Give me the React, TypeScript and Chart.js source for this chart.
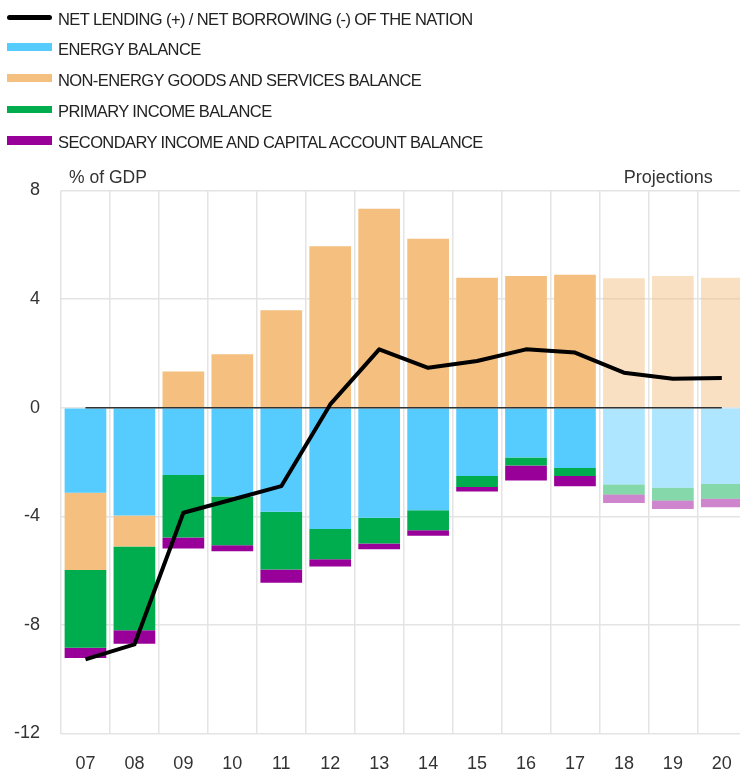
import React, { useEffect, useRef } from "react";
import { Chart, registerables } from "chart.js";

Chart.register(...registerables);

const categories = ["07", "08", "09", "10", "11", "12", "13", "14", "15", "16", "17", "18", "19", "20"];
const projected = [false, false, false, false, false, false, false, false, false, false, false, true, true, true];

const netLending = [-9.27, -8.72, -3.87, -3.38, -2.89, 0.12, 2.15, 1.47, 1.72, 2.15, 2.03, 1.29, 1.07, 1.09];
const energyBalance = [-3.13, -3.97, -2.48, -3.27, -3.83, -4.47, -4.05, -3.78, -2.52, -1.83, -2.22, -2.83, -2.95, -2.81];
const nonEnergyBalance = [-2.85, -1.14, 1.33, 1.97, 3.59, 5.95, 7.33, 6.22, 4.79, 4.85, 4.9, 4.77, 4.85, 4.79];
const primaryIncome = [-2.86, -3.09, -2.3, -1.8, -2.13, -1.11, -0.95, -0.73, -0.4, -0.3, -0.3, -0.37, -0.47, -0.54];
const secondaryIncome = [-0.38, -0.49, -0.41, -0.22, -0.49, -0.27, -0.21, -0.21, -0.17, -0.55, -0.37, -0.31, -0.31, -0.32];
const zeroLine = [0, 0, 0, 0, 0, 0, 0, 0, 0, 0, 0, 0, 0, 0];

const yTicks = [8, 4, 0, -4, -8, -12];

const COLORS = {
  net: "#000000",
  energy: [85, 203, 254],
  nonEnergy: [244, 191, 127],
  primary: [0, 173, 78],
  secondary: [153, 0, 153],
};

const legendItems = [
  { label: "NET LENDING (+) / NET BORROWING (-) OF THE NATION", color: "#000", h: 5, round: true, y: 18.5 },
  { label: "ENERGY BALANCE", color: "rgb(85,203,254)", h: 8, y: 48.5 },
  { label: "NON-ENERGY GOODS AND SERVICES BALANCE", color: "rgb(244,191,127)", h: 8, y: 79.5 },
  { label: "PRIMARY INCOME BALANCE", color: "rgb(0,173,78)", h: 7, y: 111 },
  { label: "SECONDARY INCOME AND CAPITAL ACCOUNT BALANCE", color: "rgb(153,0,153)", h: 9, y: 141.5 },
];

function pointColors(rgb: number[]) {
  return projected.map((p) => `rgba(${rgb[0]},${rgb[1]},${rgb[2]},${p ? 0.48 : 1})`);
}

const FONT = "'Liberation Sans', Arial, Helvetica, sans-serif";

export default function App() {
  const canvasRef = useRef<HTMLCanvasElement | null>(null);

  useEffect(() => {
    if (!canvasRef.current) return;
    const barBase = {
      type: "bar" as const,
      order: 2,
      barPercentage: 0.852,
      categoryPercentage: 1,
      borderWidth: 0,
    };
    const chart = new Chart(canvasRef.current, {
      type: "bar",
      data: {
        labels: categories,
        datasets: [
          {
            type: "line",
            label: "NET LENDING (+) / NET BORROWING (-) OF THE NATION",
            data: netLending,
            borderColor: COLORS.net,
            borderWidth: 4,
            pointRadius: 0,
            tension: 0,
            order: 0,
            stack: "net",
            borderJoinStyle: "round",
          } as any,
          {
            type: "line",
            label: "zero",
            data: zeroLine,
            borderColor: "#333333",
            borderWidth: 1.5,
            pointRadius: 0,
            order: 1,
            stack: "zero",
          } as any,
          { ...barBase, label: "ENERGY BALANCE", data: energyBalance, backgroundColor: pointColors(COLORS.energy), stack: "bars" },
          { ...barBase, label: "NON-ENERGY GOODS AND SERVICES BALANCE", data: nonEnergyBalance, backgroundColor: pointColors(COLORS.nonEnergy), stack: "bars" },
          { ...barBase, label: "PRIMARY INCOME BALANCE", data: primaryIncome, backgroundColor: pointColors(COLORS.primary), stack: "bars" },
          { ...barBase, label: "SECONDARY INCOME AND CAPITAL ACCOUNT BALANCE", data: secondaryIncome, backgroundColor: pointColors(COLORS.secondary), stack: "bars" },
        ],
      },
      options: {
        animation: false,
        responsive: true,
        maintainAspectRatio: false,
        layout: { padding: { top: 190.5, right: 13.7, left: 0, bottom: 0 } },
        plugins: { legend: { display: false }, tooltip: { enabled: false } },
        scales: {
          x: {
            stacked: true,
            offset: true,
            grid: { offset: true, color: "#e4e4e4", lineWidth: 1.5, drawTicks: false },
            border: { display: false },
            ticks: { font: { family: FONT, size: 18 }, color: "#333", padding: 20, maxRotation: 0, autoSkip: false },
            afterFit: (s: any) => {
              s.height = 36.5;
            },
          },
          y: {
            stacked: true,
            min: -12,
            max: 8,
            afterBuildTicks: (s: any) => {
              s.ticks = yTicks.map((v) => ({ value: v }));
            },
            grid: { color: "#e4e4e4", lineWidth: 1.5, drawTicks: false },
            border: { display: false },
            ticks: { font: { family: FONT, size: 18 }, color: "#333", padding: 21 },
            afterFit: (s: any) => {
              s.width = 61;
            },
          },
        },
      },
    });
    return () => chart.destroy();
  }, []);

  return (
    <div style={{ position: "absolute", left: 0, top: 0, width: 740, height: 770, overflow: "hidden", background: "#fff", fontFamily: FONT }}>
      <div style={{ position: "absolute", left: 0, top: 0, width: 760, height: 770 }}>
        <canvas ref={canvasRef} />
      </div>
      {legendItems.map((it) => (
        <div key={it.label} style={{ position: "absolute", left: 0, top: it.y - 12, height: 24, display: "flex", alignItems: "center", whiteSpace: "nowrap" }}>
          <div style={{ position: "absolute", left: 7, top: 12 - it.h / 2 - 1.5, width: 44.5, height: it.h, background: it.color, borderRadius: it.round ? it.h / 2 : 0 }} />
          <span style={{ position: "absolute", left: 58, top: 0, lineHeight: "24px", fontSize: 16.5, letterSpacing: -0.6, color: "#222" }}>{it.label}</span>
        </div>
      ))}
      <div style={{ position: "absolute", left: 69, top: 165, lineHeight: "24px", fontSize: 17.5, color: "#333", whiteSpace: "nowrap" }}>% of GDP</div>
      <div style={{ position: "absolute", right: 740 - 712.7, top: 164.5, lineHeight: "24px", fontSize: 18, color: "#333", whiteSpace: "nowrap" }}>Projections</div>
    </div>
  );
}
